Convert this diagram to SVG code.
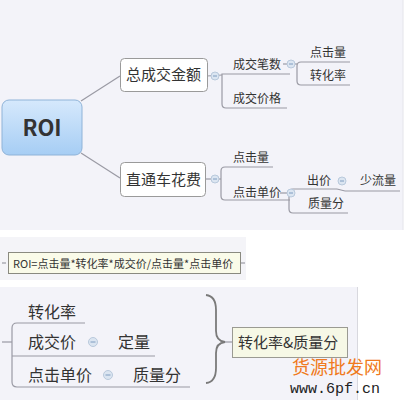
<svg xmlns="http://www.w3.org/2000/svg" width="409" height="400" viewBox="0 0 409 400">
<defs>
<linearGradient id="roiGrad" x1="0" y1="0" x2="0" y2="1">
<stop offset="0" stop-color="#d6e9fc"/>
<stop offset="1" stop-color="#a6cdf4"/>
</linearGradient>
<style>
.t{font-family:"Noto Sans CJK SC","Liberation Sans",sans-serif;fill:#333}
.s{font-size:12px}
.m{font-size:15px}
.l{font-size:16px}
.ln{fill:none;stroke:#9a9aa4;stroke-width:1.2}
.node{fill:#fff;stroke:#9a9a9a;stroke-width:1}
.c{fill:#dbe5f1;stroke:#b9c9dc;stroke-width:1}
.cm{stroke:#7f9cc0;stroke-width:1}
</style>
</defs>
<rect width="409" height="400" fill="#fff"/>
<!-- panels -->
<rect x="0" y="0" width="403" height="230" fill="#f3f3f9"/>
<line x1="403" y1="0" x2="403" y2="230" stroke="#e4e4ea"/>
<rect x="0" y="237" width="246" height="43" fill="#f4f4f8"/>
<rect x="0" y="287" width="358" height="113" fill="#f3f3f9"/>
<line x1="357.5" y1="287" x2="357.5" y2="400" stroke="#d8d8de"/>

<g id="connectors">
<line class="ln" x1="81" y1="101" x2="120" y2="76"/>
<line class="ln" x1="81" y1="153" x2="120" y2="178"/>
<!-- 总成交金额 branch -->
<line class="ln" x1="207" y1="76" x2="222" y2="75"/>
<path class="ln" d="M290 74 H222 V104 Q222 108 226 108 H287"/>
<line class="ln" x1="283" y1="64" x2="297" y2="64"/>
<path class="ln" d="M350 62 H301 Q297 62 297 66 V81 Q297 85 301 85 H350"/>
<!-- 直通车花费 branch -->
<line class="ln" x1="205" y1="179" x2="221" y2="179"/>
<path class="ln" d="M273 167 H225 Q221 167 221 171 V196 Q221 200 225 200 H290"/>
<line class="ln" x1="280" y1="193" x2="289" y2="193"/>
<path class="ln" d="M337 189 H293 Q289 189 289 193 V209 Q289 213 293 213 H348"/>
<line class="ln" x1="337" y1="189" x2="345" y2="191"/>
<line class="ln" x1="345" y1="191" x2="400" y2="191"/>
<!-- panel 2 dashes -->
<line class="ln" x1="2" y1="263" x2="6" y2="263"/>
<line class="ln" x1="241" y1="263" x2="245" y2="263"/>
<!-- panel 3 -->
<line class="ln" x1="2" y1="342" x2="12" y2="342"/>
<path class="ln" d="M85 323 H17 Q12 323 12 328 V382 Q12 387 17 387 H190"/>
<line class="ln" x1="12" y1="356" x2="155" y2="356"/>
<line class="ln" x1="225" y1="342" x2="232" y2="342"/>
<path d="M206 295 Q216 296 216 310 V331 Q216 341 225 342 Q216 343 216 353 V368 Q216 382 206 383" fill="none" stroke="#7a7a7a" stroke-width="1.8"/>
</g>

<g id="roi">
<rect x="2" y="100" width="80" height="55" rx="7" fill="url(#roiGrad)" stroke="#8fb3d8"/>
<text class="t" x="42" y="136" font-size="22" font-weight="bold" text-anchor="middle" font-family="'Liberation Sans',sans-serif">ROI</text>
</g>
<g id="n-zongchengjiao">
<rect class="node" x="120.5" y="58.5" width="87" height="33" rx="4"/>
<text class="t m" x="126" y="80">总成交金额</text>
</g>
<g id="n-zhitongche">
<rect class="node" x="120.5" y="162.5" width="85" height="34" rx="4"/>
<text class="t m" x="126" y="185">直通车花费</text>
</g>
<g id="c1"><circle class="c" cx="215" cy="76" r="4"/><line class="cm" x1="213" y1="76" x2="217" y2="76"/></g>
<g id="n-bishu"><text class="t s" x="233" y="69">成交笔数</text></g>
<g id="n-jiage"><text class="t s" x="233" y="103">成交价格</text></g>
<g id="c2"><circle class="c" cx="291" cy="64" r="4"/><line class="cm" x1="289" y1="64" x2="293" y2="64"/></g>
<g id="n-dianji1"><text class="t s" x="310" y="57">点击量</text></g>
<g id="n-zhuanhua1"><text class="t s" x="310" y="80">转化率</text></g>
<g id="c3"><circle class="c" cx="215" cy="179" r="4"/><line class="cm" x1="213" y1="179" x2="217" y2="179"/></g>
<g id="n-dianji2"><text class="t s" x="233" y="162">点击量</text></g>
<g id="n-danjia"><text class="t s" x="233" y="197">点击单价</text></g>
<g id="c4"><circle class="c" cx="291" cy="193" r="4"/><line class="cm" x1="289" y1="193" x2="293" y2="193"/></g>
<g id="n-chujia"><text class="t s" x="307" y="185">出价</text></g>
<g id="c5"><circle class="c" cx="342" cy="181" r="4"/><line class="cm" x1="340" y1="181" x2="344" y2="181"/></g>
<g id="n-shaoliu"><text class="t s" x="360" y="185">少流量</text></g>
<g id="n-zhiliang1"><text class="t s" x="308" y="208">质量分</text></g>

<g id="formula">
<rect x="8.5" y="252.5" width="232" height="21" fill="#fafbe9" stroke="#8a8a80"/>
<text class="t" x="13" y="267.5" font-size="11">ROI=点击量*转化率*成交价/点击量*点击单价</text>
</g>

<g id="p3-zhuanhua"><text class="t l" x="28" y="318">转化率</text></g>
<g id="p3-chengjiao"><text class="t l" x="28" y="348">成交价</text></g>
<g id="c6"><circle class="c" cx="93" cy="342" r="4.5"/><line class="cm" x1="90.5" y1="342" x2="95.5" y2="342"/></g>
<g id="p3-dingliang"><text class="t l" x="118" y="348">定量</text></g>
<g id="p3-danjia"><text class="t l" x="28" y="381">点击单价</text></g>
<g id="c7"><circle class="c" cx="108" cy="375" r="4.5"/><line class="cm" x1="105.5" y1="375" x2="110.5" y2="375"/></g>
<g id="p3-zhiliang"><text class="t l" x="133" y="381">质量分</text></g>
<g id="p3-result">
<rect x="232.5" y="327.5" width="115" height="30" fill="#f6f8e6" stroke="#9a9a92"/>
<text class="t m" x="238" y="348">转化率&amp;质量分</text>
</g>

<g id="watermark">
<text x="292" y="374" font-family="'Noto Sans CJK SC',sans-serif" font-size="18" fill="#f07a20">货源批发网</text>
<text x="290" y="393" font-family="'Liberation Mono',monospace" font-size="15" fill="#222">www.6pf.cn</text>
</g>
</svg>
